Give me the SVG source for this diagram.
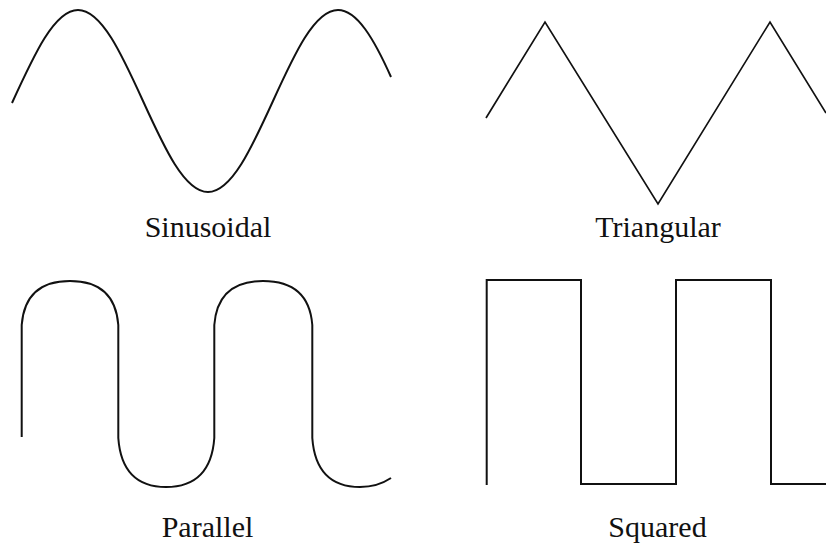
<svg xmlns="http://www.w3.org/2000/svg" width="826" height="545" viewBox="0 0 826 545">
<style>
.w{fill:none;stroke:#111;stroke-width:2;stroke-linejoin:miter}
.t{font-family:"Liberation Serif","Times New Roman",serif;font-size:30px;fill:#111;text-anchor:middle}
</style>
<rect width="826" height="545" fill="#fff"/>
<g id="sinusoidal">
<path class="w" d="M12,103 C34.2,54.4 54.5,10 78,10 C101.5,10 121.8,54.4 143,101 C164.2,147.6 184.5,192 208,192 C231.5,192 251.8,147.6 273,101 C294.2,54.4 314.5,10 338,10 C357,10 374,39 391,77"/>
<text class="t" x="208" y="237">Sinusoidal</text>
</g>
<g id="triangular">
<polyline class="w" style="stroke-width:1.7" points="486,118 545,22 658,204 770,22 826,113"/>
<text class="t" x="658" y="237">Triangular</text>
</g>
<g id="parallel">
<path class="w" d="M21.7,437 L21.7,325 C24,295 40,281 70,281 C100,281 116,295 118.3,325 L118.3,438 C120.6,470 136,487 166,487 C196,487 212,470 214.3,438 L214.3,325 C216.6,295 233,281 263,281 C293,281 310,295 312.3,325 L312.3,438 C314.6,470 330,487 360,487 C376,487 385,482 391,478"/>
<text class="t" x="207.5" y="537">Parallel</text>
</g>
<g id="squared">
<polyline class="w" points="486.7,485 486.7,280 581,280 581,484 676,484 676,280 771,280 771,484 826,484"/>
<text class="t" x="657.5" y="537">Squared</text>
</g>
</svg>
